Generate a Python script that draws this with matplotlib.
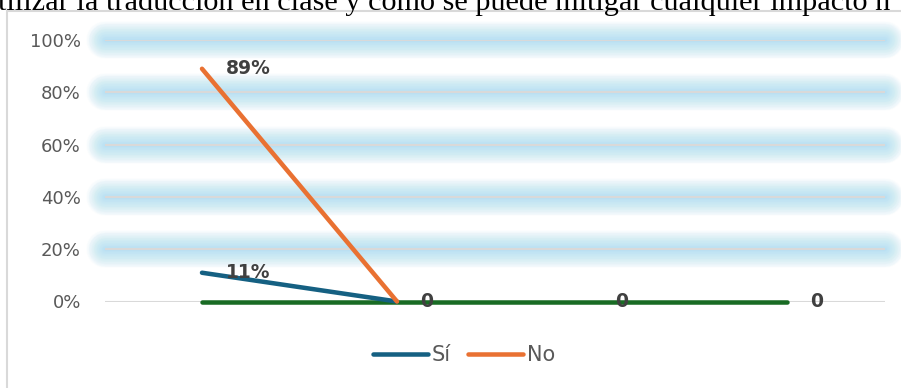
import numpy as np
import matplotlib
matplotlib.use("Agg")
import matplotlib.pyplot as plt
from matplotlib.lines import Line2D
from matplotlib.patches import Rectangle

# ---- data ----
categories = ["1", "2", "3", "4"]
si_values = [0.11, 0.0, np.nan, np.nan]
no_values = [0.89, 0.0, np.nan, np.nan]
other_values = [0.0, 0.0, 0.0, 0.0]
si_labels = ["11%", "", "", ""]
no_labels = ["89%", "", "", ""]
other_labels = ["", "0", "0", "0"]
yticks = [0, 0.2, 0.4, 0.6, 0.8, 1.0]
ytick_labels = ["0%", "20%", "40%", "60%", "80%", "100%"]
title_text = "tilizar la traducción en clase y cómo se puede mitigar cualquier impacto n"

W, H = 901, 388
fig = plt.figure(figsize=(W / 100, H / 100), dpi=100)
fig.patch.set_facecolor("white")

# chart border
fig.patches.append(Rectangle((7 / W, -0.1), 1.2, 1 - 11 / H + 0.1, transform=fig.transFigure,
                             fill=False, edgecolor="#d9d9d9", linewidth=1.5))

# title (cut off at top)
t = fig.text(-2 / W, 1 - 10 / H, title_text, family="Liberation Serif", fontsize=16,
             ha="left", va="baseline", color="black")
fig.canvas.draw()
w = t.get_window_extent().width
t.set_fontsize(16 * 892 / w)

ax = fig.add_axes([104.5 / W, 1 - 301.5 / H, 780 / W, 261.5 / H])
x = np.arange(len(categories))
ax.set_xlim(-0.5, len(categories) - 0.5)
ax.set_ylim(0, 1)

# soft glow around gridlines
for yv in yticks[1:]:
    for lw in np.linspace(1, 27, 26):
        ax.plot([-0.5, len(categories) - 0.5], [yv, yv], color="#9ad9f3", alpha=0.036,
                linewidth=lw, solid_capstyle="round", clip_on=False, zorder=0)
for yv in yticks:
    ax.axhline(yv, color="#d9d9d9", linewidth=1.5, zorder=1)

ax.plot(x, other_values, color="#196B24", linewidth=3.25, solid_capstyle="round",
        clip_on=False, zorder=3)
ax.plot(x, si_values, color="#156082", linewidth=3.25, solid_capstyle="round",
        clip_on=False, zorder=4)
ax.plot(x, no_values, color="#E97132", linewidth=3.25, solid_capstyle="round",
        clip_on=False, zorder=5)

for vals, labs in [(si_values, si_labels), (no_values, no_labels), (other_values, other_labels)]:
    for xi, v, lab in zip(x, vals, labs):
        if lab:
            ax.annotate(lab, (xi, v), xytext=(17, 0), textcoords="offset points",
                        ha="left", va="center", fontsize=13.5, fontweight="bold",
                        color="#404040", family="DejaVu Sans", zorder=6,
                        annotation_clip=False)

ax.set_yticks(yticks)
ax.set_yticklabels(ytick_labels, family="DejaVu Sans", fontsize=13, color="#595959")
ax.set_xticks([])
ax.tick_params(axis="y", length=0, pad=17)
for s in ax.spines.values():
    s.set_visible(False)
ax.patch.set_alpha(0)

handles = [Line2D([], [], color="#156082", linewidth=3.25, solid_capstyle="round"),
           Line2D([], [], color="#E97132", linewidth=3.25, solid_capstyle="round")]
fig.legend(handles, ["Sí", "No"], loc="center", bbox_to_anchor=(0.515, 1 - 355 / H),
           ncol=2, frameon=False, handlelength=2.65, handletextpad=0.2, columnspacing=0.8,
           prop={"family": "DejaVu Sans", "size": 15}, labelcolor="#595959")

fig.savefig("out.png", dpi=100)
